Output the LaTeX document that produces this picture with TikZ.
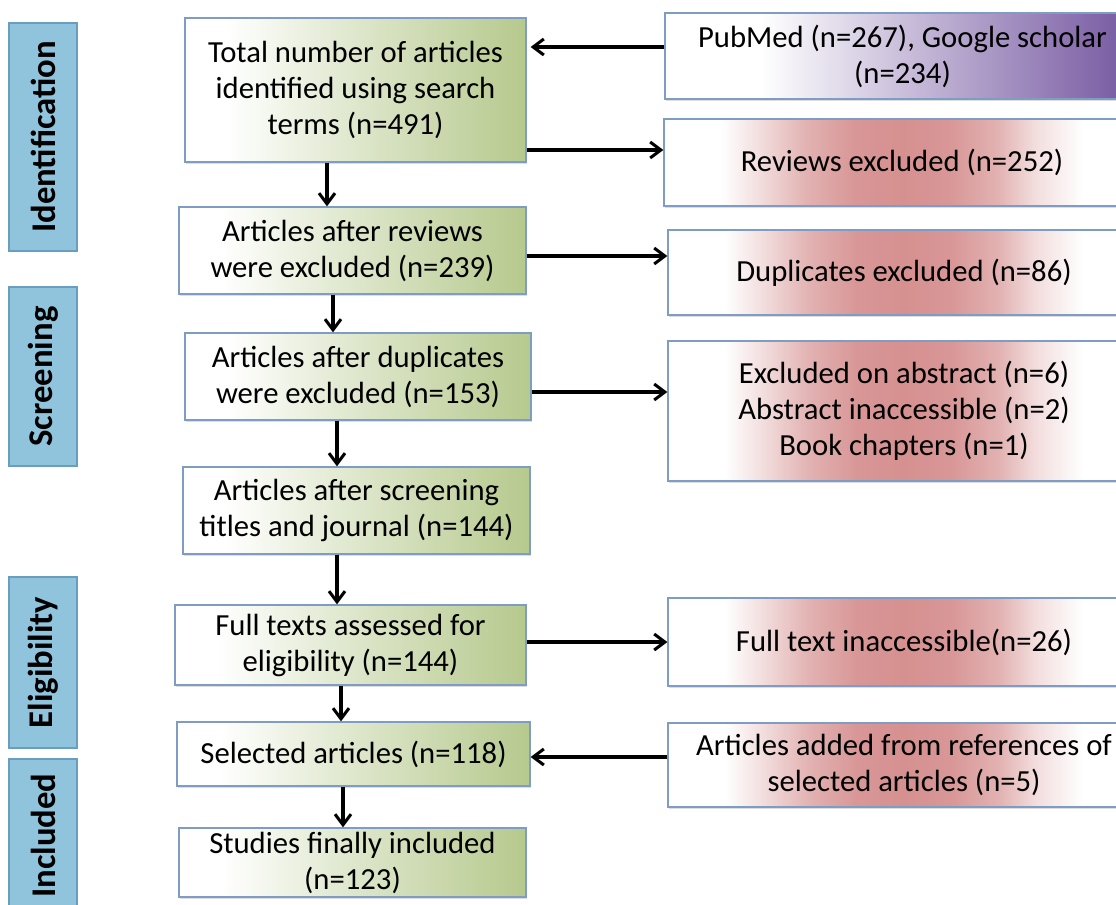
\documentclass[tikz,border=0pt]{standalone}
\usepackage{fontspec}
\setmainfont{Carlito}
\usetikzlibrary{arrows.meta,shadows}
\definecolor{grn}{HTML}{B6C98D}
\definecolor{redc}{HTML}{D69090}
\definecolor{purp}{HTML}{7D61A6}
\definecolor{bord}{HTML}{7F9DC4}
\definecolor{sidefill}{HTML}{8FC4DC}
\definecolor{sidebord}{HTML}{6A9EC0}
\pgfdeclarehorizontalshading{greenfade}{100bp}{color(0bp)=(white); color(25bp)=(white); color(31bp)=(white); color(50bp)=(grn!45!white); color(75bp)=(grn); color(100bp)=(grn)}
\pgfdeclarehorizontalshading{redband}{100bp}{color(0bp)=(white); color(25bp)=(white); color(31bp)=(white); color(35bp)=(redc!30!white); color(40bp)=(redc!70!white); color(45bp)=(redc!94!white); color(50bp)=(redc); color(55bp)=(redc!94!white); color(60bp)=(redc!70!white); color(64bp)=(redc!30!white); color(69bp)=(white); color(75bp)=(white); color(100bp)=(white)}
\pgfdeclarehorizontalshading{purpfade}{100bp}{color(0bp)=(white); color(25bp)=(white); color(35bp)=(white); color(72bp)=(purp); color(100bp)=(purp)}
\tikzset{
  boxbase/.style={draw=bord, line width=0.9pt, align=center, inner sep=0pt,
    font=\fontsize{23}{27}\selectfont,
    drop shadow={opacity=0.22, shadow xshift=0.6pt, shadow yshift=-1.3pt, fill=black!60}},
  gbox/.style={boxbase, shade, shading=greenfade},
  rbox/.style={boxbase, shade, shading=redband},
  pbox/.style={boxbase, shade, shading=purpfade},
  side/.style={draw=sidebord, line width=0.9pt, fill=sidefill, rotate=90, inner sep=0pt,
    font=\fontsize{26}{30}\selectfont\bfseries},
  arr/.style={-{Straight Barb[length=8pt,width=12pt]}, line width=2.3pt}
}
\begin{document}
\begin{tikzpicture}[x=0.75pt,y=-0.75pt]
\useasboundingbox (0,0) rectangle (1116,905);
\fill[white] (0,0) rectangle (1116,905);
\clip (0,0) rectangle (1116,905);

% side labels
\node[side, minimum width=171pt, minimum height=51pt] (sid) at (43,137) {Identification};
\node[side, minimum width=134.25pt, minimum height=51pt] (ssc) at (43,376.5) {Screening};
\node[side, minimum width=128.25pt, minimum height=51pt] (sel) at (43,662.5) {Eligibility};
\node[side, minimum width=114.75pt, minimum height=51pt] (sin) at (43,835.5) {Included};

% left column
\node[gbox, minimum width=255.75pt, minimum height=108pt] (n1) at (355.5,90) {Total number of articles\\identified using search\\terms (n=491)};
\node[gbox, minimum width=260.25pt, minimum height=65.25pt] (n2) at (352.5,250.5) {Articles after reviews\\were excluded (n=239)};
\node[gbox, minimum width=259.5pt, minimum height=65.25pt] (n3) at (358,376.5) {Articles after duplicates\\were excluded (n=153)};
\node[gbox, minimum width=260.25pt, minimum height=65.25pt] (n4) at (356.5,510.5) {Articles after screening\\titles and journal (n=144)};
\node[gbox, minimum width=263.25pt, minimum height=60pt] (n5) at (350.5,645) {Full texts assessed for\\eligibility (n=144)};
\node[gbox, minimum width=264.75pt, minimum height=48pt] (n6) at (353.5,754) {Selected articles (n=118)};
\node[gbox, minimum width=260.25pt, minimum height=51.75pt] (n7) at (352.5,862.5) {Studies finally included\\(n=123)};

% right column
\node[pbox, minimum width=356.25pt, minimum height=64.5pt] (ra) at (902.5,56) {PubMed (n=267), Google scholar\\(n=234)};
\node[rbox, minimum width=357pt, minimum height=65.25pt] (rb) at (902,162.5) {Reviews excluded (n=252)};
\node[rbox, minimum width=354pt, minimum height=63.75pt] (rc) at (904,272.5) {Duplicates excluded (n=86)};
\node[rbox, minimum width=354pt, minimum height=105pt] (rd) at (904,411) {Excluded on abstract (n=6)\\Abstract inaccessible (n=2)\\Book chapters (n=1)};
\node[rbox, minimum width=354pt, minimum height=66pt] (re) at (904,642) {Full text inaccessible(n=26)};
\node[rbox, minimum width=354pt, minimum height=63pt] (rf) at (904,765) {Articles added from references of\\selected articles (n=5)};

% helper coordinates
\coordinate (ya) at (0,47);
\coordinate (yb) at (0,150);
\coordinate (yc) at (0,256);
\coordinate (yd) at (0,392);
\coordinate (ye) at (0,642);
\coordinate (yf) at (0,757);
\coordinate (v1) at (327,0);
\coordinate (v2) at (333,0);
\coordinate (v3) at (337,0);
\coordinate (v4) at (337,0);
\coordinate (v5) at (341,0);
\coordinate (v6) at (343,0);

% horizontal arrows
\draw[arr] (ra.west |- ya) -- ([xshift=3pt]n1.east |- ya);
\draw[arr] (n1.east |- yb) -- (rb.west |- yb);
\draw[arr] (n2.east |- yc) -- (rc.west |- yc);
\draw[arr] (n3.east |- yd) -- (rd.west |- yd);
\draw[arr] (n5.east |- ye) -- (re.west |- ye);
\draw[arr] (rf.west |- yf) -- (n6.east |- yf);

% vertical arrows
\draw[arr] (n1.south -| v1) -- (n2.north -| v1);
\draw[arr] (n2.south -| v2) -- (n3.north -| v2);
\draw[arr] (n3.south -| v3) -- (n4.north -| v3);
\draw[arr] (n4.south -| v4) -- (n5.north -| v4);
\draw[arr] (n5.south -| v5) -- (n6.north -| v5);
\draw[arr] (n6.south -| v6) -- (n7.north -| v6);
\end{tikzpicture}
\end{document}
